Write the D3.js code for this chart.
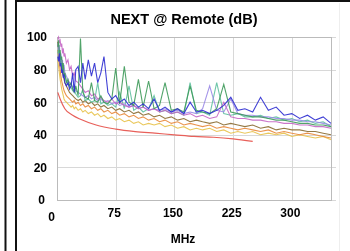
<!DOCTYPE html>
<html><head><meta charset="utf-8">
<script src="https://cdn.jsdelivr.net/npm/d3@7"></script>
<style>
html,body{margin:0;padding:0;background:#fff;}
svg{display:block;font-family:"Liberation Sans",Arial,sans-serif;filter:blur(0.45px);}
</style></head>
<body>
<script>
const title = "NEXT @ Remote (dB)";
const xLabel = "MHz";
const xTicks = [0, 75, 150, 225, 300];
const yTicks = [0, 20, 40, 60, 80, 100];
const freq = [1,2,3,4,5,6,7,8,9,10,12,14,16,18,20,22,24,27,30,33,36,40,44,48,52,56,60,65,70,75,80,86,92,98,104,110,117,124,131,138,146,154,162,170,178,186,195,204,213,222,231,240,250,260,270,280,290,300,310,320,330,340,350];
const pairMagenta = [99,100,97,98,94,96,90,93,88,90, 84,86,80,82,76,78,73, 72,70,68,66, 67,64,65,62,63,61, 60,62,59,60, 58,57,58,56,57, 55,56,54,55, 53,54,52,53,51,52, 50,51,60,51,50,50, 49,49,48,48,47,47,46,46,45,45,44];
const pairLavender = [96,92,95,88,90,84,86,80,83,78, 76,74,72,71,69,70,67, 66,65,64,63, 64,62,63,61,62,60, 61,59,60,58, 59,57,58,56,57, 55,56,55,56, 54,55,53,54,53,56, 70,55,54,62,53,52, 52,51,51,50,50,49,49,48,48,47,46];
const pairGreen = [94,98,90,92,86,88,80,84,76,78, 72,74,70,72,68,66,70, 64,99,66,63, 62,72,61,60,64,60, 59,62,81,59, 82,60,58,74,57, 73,56,58,72, 55,56,54,70,55,54, 53,56,71,54,53,52, 51,51,50,49,49,48,47,47,46,46,45];
const pairBlue = [88,85,90,82,84,78,80,75,77,72, 70,72,68,70,78,66,80, 82,72,84,74, 86,76,84,72,78,88, 66,62,64,60, 62,58,60,57,59, 56,62,55,57, 54,56,53,60,54,55, 53,55,58,63,55,56, 54,63,55,57,52,53,50,52,49,51,47];
const pairTeal = [90,93,87,89,83,85,79,81,76,77, 73,72,70,69,67,68,65, 63,64,68,61, 62,60,61,72,59,60, 58,59,57,66, 56,70,55,57,54, 56,64,54,55, 53,54,52,72,53,54, 52,72,53,52,53,51, 51,52,50,51,49,50,48,49,47,48,45];
const pairBrown = [97,93,90,86,84,80,78,76,74,72, 70,68,66,65,64,63,62, 61,62,60,61, 59,60,58,59,57,58, 56,57,55,56, 54,55,53,54,52, 53,51,52,50, 51,49,50,48,49,48, 47,48,46,47,46,45, 46,44,45,43,44,43,43,42,42,41,40];
const pairOrange = [92,88,84,80,76,73,71,69,67,66, 64,63,62,61,60,61,59, 60,58,59,57, 58,56,57,55,56,54, 55,53,54,52, 53,51,52,50,51, 49,50,48,49, 47,48,46,47,46,45, 46,44,45,44,43,44, 43,42,43,41,42,41,40,41,40,39,38];
const pairYellow = [86,82,78,74,71,68,66,64,62,61, 60,59,58,57,58,56,57, 55,56,54,55, 53,54,52,53,51,52, 50,51,49,50, 48,49,47,48,46, 47,46,47,45, 46,44,45,43,44,43, 44,42,43,41,42,41, 42,40,41,40,41,39,40,39,38,39,37];
const limitFreq = [1,4,10,20,30,50,75,100,125,150,175,200,225,250];
const limitDb = [66,62,56,52,49.5,46,43.5,42,41,40,39,38.5,37.5,36];

const series = [
  {vals:pairYellow, color:"#e8c24a"},
  {vals:pairOrange, color:"#e8883a"},
  {vals:pairBrown, color:"#8a6a30"},
  {vals:pairTeal, color:"#5fc0a0"},
  {vals:pairLavender, color:"#9a88e6"},
  {vals:pairMagenta, color:"#c466c4"},
  {vals:pairGreen, color:"#3e9a5a"},
  {vals:pairBlue, color:"#2c2cd0"}
];

const W = 350, H = 251;
const m = {left:57, right:18, top:37, bottom:51};
const svg = d3.select("body").append("svg").attr("width", W).attr("height", H);

// panel frames
svg.append("line").attr("x1",5.5).attr("x2",5.5).attr("y1",0).attr("y2",H).attr("stroke","#111").attr("stroke-width",2);
svg.append("line").attr("x1",16).attr("x2",16).attr("y1",0).attr("y2",H).attr("stroke","#111").attr("stroke-width",2);
svg.append("line").attr("x1",16).attr("x2",W).attr("y1",1).attr("y2",1).attr("stroke","#111").attr("stroke-width",2);
svg.append("line").attr("x1",339.5).attr("x2",339.5).attr("y1",3).attr("y2",H).attr("stroke","#eee").attr("stroke-width",1);

const x = d3.scaleLinear().domain([0,350]).range([m.left, W - m.right - 1]);
const y = d3.scaleLinear().domain([0,100]).range([H - m.bottom, m.top]);

// grid
svg.append("g").selectAll("line").data(yTicks).join("line")
  .attr("x1", x(0)).attr("x2", x(350)+5)
  .attr("y1", d=>Math.round(y(d))+0.5).attr("y2", d=>Math.round(y(d))+0.5)
  .attr("stroke","#d8d8d8");
svg.append("g").selectAll("line").data(xTicks.slice(1)).join("line")
  .attr("y1", y(0)).attr("y2", y(100))
  .attr("x1", d=>Math.round(x(d))+0.5).attr("x2", d=>Math.round(x(d))+0.5)
  .attr("stroke","#d8d8d8");
svg.append("rect").attr("x", x(0)+0.5).attr("y", y(100)+0.5)
  .attr("width", x(350)-x(0)).attr("height", y(0)-y(100))
  .attr("fill","none").attr("stroke","#bbb");

const line = d3.line().x(d=>x(d[0])).y(d=>y(d[1]));
const g = svg.append("g");
series.forEach(s=>{
  g.append("path").datum(freq.map((f,i)=>[f, s.vals[i]]))
    .attr("d", line).attr("fill","none").attr("stroke", s.color)
    .attr("stroke-width",1.1).attr("stroke-opacity",0.9);
});
g.append("path").datum(limitFreq.map((f,i)=>[f, limitDb[i]]))
  .attr("d", d3.line().curve(d3.curveMonotoneX).x(d=>x(d[0])).y(d=>y(d[1])))
  .attr("fill","none").attr("stroke","#e8605a").attr("stroke-width",1.2);

// axes
const xa = svg.append("g").attr("transform",`translate(0,${y(0)})`)
  .call(d3.axisBottom(x).tickValues(xTicks).tickSize(0).tickPadding(8));
const ya = svg.append("g").attr("transform",`translate(${x(0)-8},0)`)
  .call(d3.axisLeft(y).tickValues(yTicks).tickSize(0).tickPadding(2));
[xa, ya].forEach(a=>{
  a.select(".domain").remove();
  a.selectAll("text").attr("font-size",12).attr("font-weight","bold")
    .attr("font-family","Liberation Sans, Arial, sans-serif").attr("fill","#000");
});
xa.selectAll(".tick").filter(d=>d===0).select("text").attr("dx",-6).attr("dy","1.1em");
xa.selectAll(".tick").filter(d=>d!==0).select("text").attr("dx",-2);
ya.selectAll(".tick").filter(d=>d===0).select("text").attr("dx",-2);

svg.append("text").attr("x",184).attr("y",24).attr("text-anchor","middle")
  .attr("font-size",14.5).attr("font-weight","bold").text(title);
svg.append("text").attr("x",183).attr("y",243).attr("text-anchor","middle")
  .attr("font-size",12).attr("font-weight","bold").text(xLabel);
</script>
</body></html>
